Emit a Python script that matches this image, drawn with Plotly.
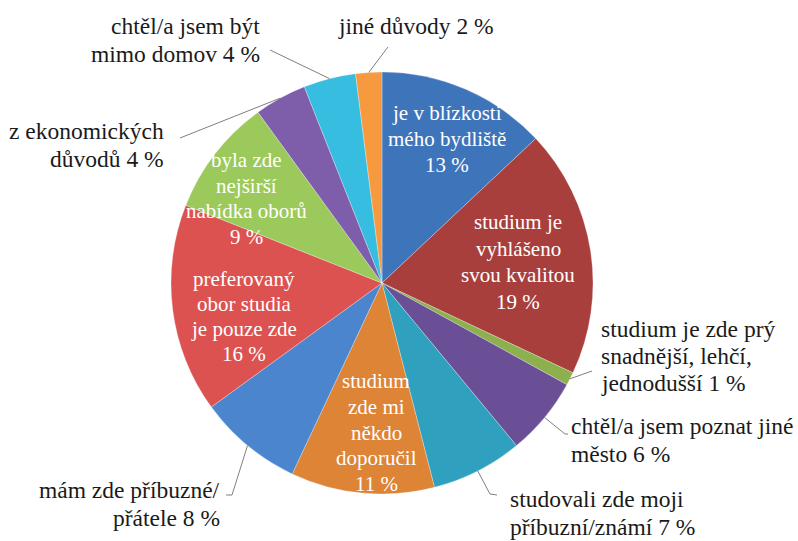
import math
import plotly.graph_objects as go

# ---------------- data ----------------
categories = [
    "je v blízkosti mého bydliště",
    "studium je vyhlášeno svou kvalitou",
    "studium je zde prý snadnější, lehčí, jednodušší",
    "chtěl/a jsem poznat jiné město",
    "studovali zde moji příbuzní/známí",
    "studium zde mi někdo doporučil",
    "mám zde příbuzné/přátele",
    "preferovaný obor studia je pouze zde",
    "byla zde nejširší nabídka oborů",
    "z ekonomických důvodů",
    "chtěl/a jsem být mimo domov",
    "jiné důvody",
]
values = [13, 19, 1, 6, 7, 11, 8, 16, 9, 4, 4, 2]
label_lines = [
    ["je v blízkosti", "mého bydliště"],
    ["studium je", "vyhlášeno", "svou kvalitou"],
    ["studium je zde prý", "snadnější, lehčí,", "jednodušší"],
    ["chtěl/a jsem poznat jiné", "město"],
    ["studovali zde moji", "příbuzní/známí"],
    ["studium", "zde mi", "někdo", "doporučil"],
    ["mám zde příbuzné/", "přátele"],
    ["preferovaný", "obor studia", "je pouze zde"],
    ["byla zde", "nejširší", "nabídka oborů"],
    ["z ekonomických", "důvodů"],
    ["chtěl/a jsem být", "mimo domov"],
    ["jiné důvody"],
]

# ---------------- styles / layout ----------------
colors = ["#3E74BA", "#A83F3C", "#8CB04E", "#6B4F96", "#2FA0BD", "#DD8436",
          "#4A85CE", "#DC5250", "#9CC95B", "#7E5EAA", "#36BDE0", "#F7993F"]

W, H = 798, 541
CX, CY, R = 382, 283, 211
FONT = "Liberation Serif, Noto Serif, DejaVu Serif, FreeSerif, Nimbus Roman, Times, serif"

# label placement: (mode, x, first-line y, line spacing, leader path after edge point)
placement = [
    ("in", 447, 113, 26, None),
    ("in", 518, 222, 26.5, None),
    ("left", 599, 329, 27, [(592, 371)]),
    ("left", 569, 426, 28, [(565, 434), (568, 434)]),
    ("left", 508, 499, 28, [(490, 494), (497, 495)]),
    ("in", 376, 381, 25.8, None),
    ("right", 222, 490, 28, [(232, 495), (226, 495)]),
    ("in", 244, 279, 25, None),
    ("in", 246, 160, 25.5, None),
    ("right", 166, 131, 28, [(180, 138)]),
    ("right", 262, 26, 27.5, [(270, 50)]),
    ("center", 416, 26, 28, [(388, 47)]),
]

fig = go.Figure()
fig.add_trace(go.Pie(
    labels=categories,
    values=values,
    sort=False,
    direction="clockwise",
    rotation=0,
    marker=dict(colors=colors, line=dict(color="rgba(255,255,255,0.35)", width=0.8)),
    textinfo="none",
    hoverinfo="label+percent",
    showlegend=False,
    domain=dict(x=[(CX - R) / W, (CX + R) / W],
                y=[(H - CY - R) / H, (H - CY + R) / H]),
))

total = sum(values)
annotations = []
shapes = []
cum = 0
for i, v in enumerate(values):
    mid = (cum + v / 2) / total * 2 * math.pi
    cum += v
    mode, x, y0, dy, path = placement[i]
    lines = list(label_lines[i])
    pct = f"{round(v / total * 100)} %"
    if mode == "in":
        lines = lines + [pct]
        color, size, anchor = "white", 21, "center"
    else:
        lines = lines[:-1] + [lines[-1] + " " + pct]
        color, size = "#1a1a1a", 23.5
        anchor = {"left": "left", "right": "right", "center": "center"}[mode]
    for k, ln in enumerate(lines):
        annotations.append(dict(
            x=x, y=y0 + k * dy, xref="x", yref="y", text=ln, showarrow=False,
            xanchor=anchor, yanchor="middle",
            font=dict(family=FONT, size=size, color=color),
        ))
    if path:
        ex = CX + R * math.sin(mid)
        ey = CY - R * math.cos(mid)
        pts = [(ex, ey)] + path
        d = "M " + " L ".join(f"{px:.1f},{py:.1f}" for px, py in pts)
        shapes.append(dict(type="path", path=d, xref="x", yref="y",
                           line=dict(color="#7f7f7f", width=1)))

fig.update_layout(
    width=W, height=H,
    margin=dict(l=0, r=0, t=0, b=0),
    font=dict(family=FONT),
    paper_bgcolor="white", plot_bgcolor="rgba(0,0,0,0)",
    xaxis=dict(range=[0, W], visible=False, domain=[0, 1], fixedrange=True),
    yaxis=dict(range=[H, 0], visible=False, domain=[0, 1], fixedrange=True),
    annotations=annotations,
    shapes=shapes,
)

fig.write_html("out.html", config={"displayModeBar": False},
               post_script="document.body.style.margin='0';")
